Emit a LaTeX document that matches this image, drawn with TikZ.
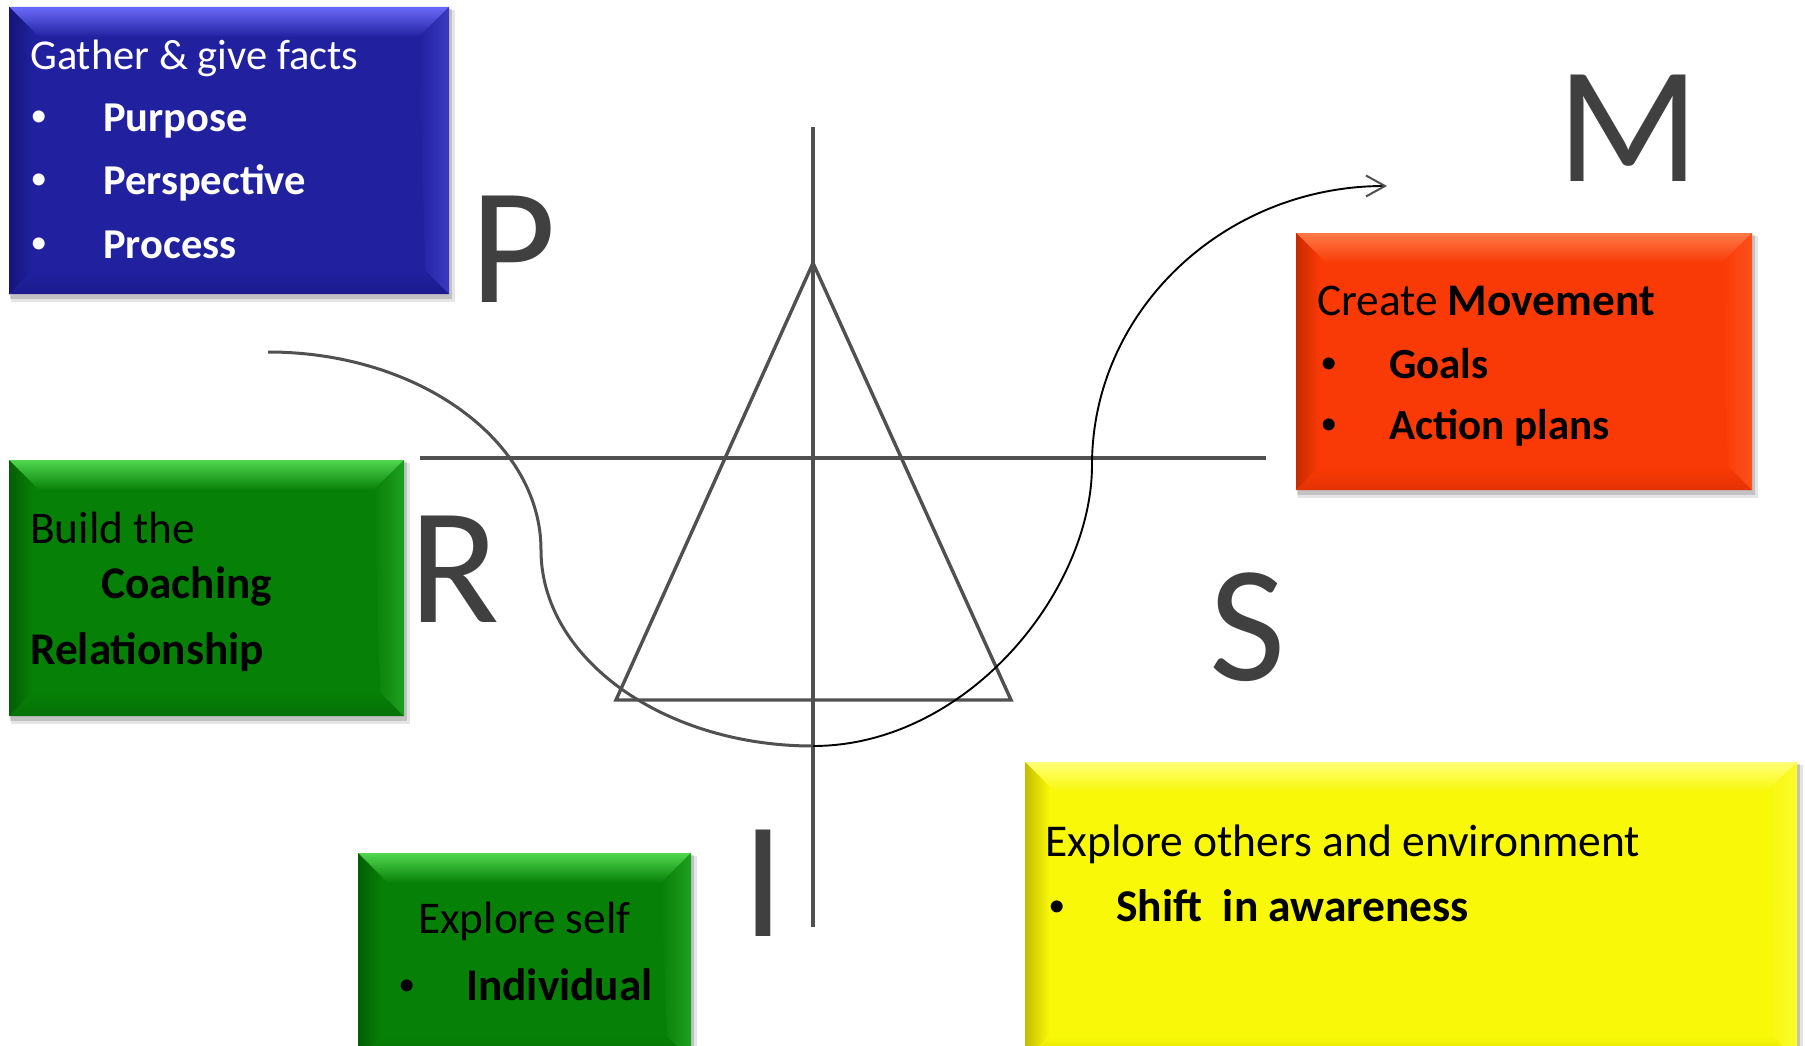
\documentclass[tikz,border=0pt]{standalone}
\usepackage{fontspec}
\setmainfont{Carlito}
\newfontfamily\bulfont{Liberation Sans}
\usetikzlibrary{arrows.meta}
\definecolor{bluebase}{HTML}{2121A0}
\definecolor{bluelight}{HTML}{6A6AFA}
\definecolor{bluedark}{HTML}{141478}
\definecolor{redbase}{HTML}{FA3A06}
\definecolor{redlight}{HTML}{FF7A48}
\definecolor{reddark}{HTML}{C82A00}
\definecolor{greenbase}{HTML}{078007}
\definecolor{greenlight}{HTML}{50D850}
\definecolor{greendark}{HTML}{045E04}
\definecolor{yelbase}{HTML}{F8F808}
\definecolor{yellight}{HTML}{FFFF78}
\definecolor{yeldark}{HTML}{C4BC00}
\definecolor{linegray}{HTML}{505050}
\definecolor{lettergray}{HTML}{404040}
\newcommand\bevelbox[8]{%
  \fill[black,opacity=0.10] (#2+2,#3+3) rectangle (#4+6,#5+8);
  \fill[black,opacity=0.15] (#2+1,#3+2) rectangle (#4+3,#5+5);
  \node[boxbase,fill=#6,anchor=north west,minimum width={#4pt-#2pt},minimum height={#5pt-#3pt}] (#1) at (#2,#3) {};
  \shade[top color=#7,bottom color=#6] (#2,#3) -- (#4,#3) -- (#4-30,#3+30) -- (#2+30,#3+30) -- cycle;
  \shade[left color=#8,right color=#6] (#2,#3) -- (#2+24,#3+24) -- (#2+24,#5-24) -- (#2,#5) -- cycle;
  \shade[top color=#6,bottom color=#8!45!#6] (#2,#5) -- (#2+24,#5-24) -- (#4-24,#5-24) -- (#4,#5) -- cycle;
  \shade[left color=#6,right color=#7!35!#6] (#4,#3) -- (#4-30,#3+30) -- (#4-24,#5-24) -- (#4,#5) -- cycle;
}
\begin{document}
\begin{tikzpicture}[x=1pt,y=-1pt,
  boxbase/.style={draw=none,inner sep=0,outer sep=0},
  txt/.style={inner sep=0,anchor=base west},
  bul/.style={inner sep=0,anchor=base,font=\bulfont\fontsize{44}{52}\selectfont},
  fblue/.style={font=\fontsize{42.5}{50}\selectfont},
  fblueb/.style={font=\bfseries\fontsize{42.5}{50}\selectfont},
  fred/.style={font=\fontsize{45.3}{52}\selectfont},
  fredb/.style={font=\bfseries\fontsize{43}{52}\selectfont},
  fgreen/.style={font=\fontsize{45.3}{52}\selectfont},
  fgreenb/.style={font=\bfseries\fontsize{45.3}{52}\selectfont},
  fyel/.style={font=\fontsize{45.5}{52}\selectfont},
  fyelb/.style={font=\bfseries\fontsize{45.5}{52}\selectfont},
  bigl/.style={inner sep=0,anchor=base,text=lettergray,font=\fontsize{166}{180}\selectfont},
  ax/.style={draw=linegray,line width=3.4pt},
  curvegray/.style={draw=linegray,line width=3pt},
  curveblack/.style={draw=black,line width=1.9pt}]
\useasboundingbox (0,0) rectangle (1805,1046);
\fill[white] (0,0) rectangle (1805,1046);

% boxes
\bevelbox{blue}{9}{7}{449}{294}{bluebase}{bluelight}{bluedark}
\bevelbox{red}{1296}{233}{1752}{490}{redbase}{redlight}{reddark}
\bevelbox{greenA}{9}{460}{404}{716}{greenbase}{greenlight}{greendark}
\bevelbox{greenB}{358}{853}{691}{1060}{greenbase}{greenlight}{greendark}
\bevelbox{yellow}{1025}{762}{1797}{1060}{yelbase}{yellight}{yeldark}

% blue text
\node[txt,fblue,text=white] (b0) at (30,70) {Gather \& give facts};
\node[bul,text=white] (b1b) at (39,132) {•};
\node[txt,fblueb,text=white] (b1) at (103,132) {Purpose};
\node[bul,text=white] (b2b) at (39,194) {•};
\node[txt,fblueb,text=white] (b2) at (103,194) {Perspective};
\node[bul,text=white] (b3b) at (39,258) {•};
\node[txt,fblueb,text=white] (b3) at (103,258) {Process};

% red text
\node[txt,fred] (r0) at (1317,315) {Create \textbf{Movement}};
\node[bul] (r1b) at (1329,378) {•};
\node[txt,fredb] (r1) at (1389,378) {Goals};
\node[bul] (r2b) at (1329,439) {•};
\node[txt,fredb] (r2) at (1389,439) {Action plans};

% green A text
\node[txt,fgreen] (g0) at (30,543) {Build the};
\node[txt,fgreenb] (g1) at (101,598) {Coaching};
\node[txt,fgreenb] (g2) at (30,664) {Relationship};

% green B text
\node[txt,fgreen] (s0) at (418,933) {Explore self};
\node[bul] (s1b) at (407,1000) {•};
\node[txt,fgreenb] (s1) at (466,1000) {Individual};

% yellow text
\node[txt,fyel] (y0) at (1045,856) {Explore others and environment};
\node[bul] (y1b) at (1057,921) {•};
\node[txt,fyelb] (y1) at (1116,921) {Shift\ \ in awareness};

% axes and triangle
\coordinate (vtop) at (813,127);
\coordinate (vbot) at (813,927);
\coordinate (hleft) at (420,458);
\coordinate (hright) at (1266,458);
\coordinate (apex) at (813,263);
\coordinate (bl) at (616,700);
\coordinate (br) at (1011,700);
\draw[ax] (vtop) -- (vbot);
\draw[ax] (hleft) -- (hright);
\draw[ax,line join=miter] (apex) -- (br) -- (bl) -- cycle;

% curve
\coordinate (cstart) at (268,352);
\coordinate (cleft) at (541,550);
\coordinate (cbot) at (813,746);
\coordinate (cright) at (1092,465);
\coordinate (cend) at (1387,186);
\draw[curvegray] (cstart) .. controls (419,352) and (541,441) .. (cleft)
  .. controls (541,658) and (663,746) .. (cbot);
\draw[curveblack,-{Straight Barb[length=19pt,width=21pt,line width=2pt,color=linegray]}]
  (cbot) .. controls (967,746) and (1092,591) .. (cright)
  .. controls (1092,311) and (1224,186) .. (cend);

% letters
\node[bigl] (P) at (513,302) {P};
\node[bigl] (M) at (1628,182) {M};
\node[bigl] (R) at (455,622) {R};
\node[bigl] (S) at (1248,680) {S};
\node[bigl] (I) at (763,936) {I};
\end{tikzpicture}
\end{document}
